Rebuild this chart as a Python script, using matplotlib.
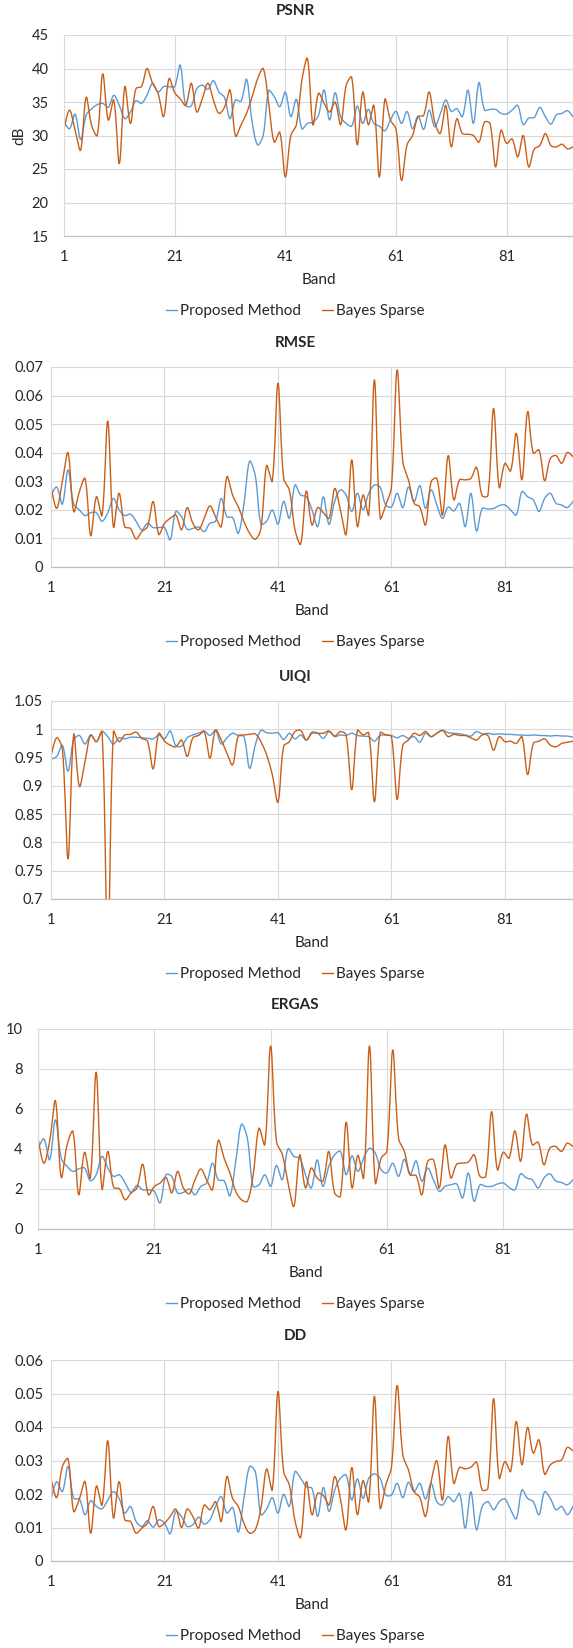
#!/usr/bin/env python3
"""Per-band quality metrics: Proposed Method vs Bayes Sparse (5 stacked panels)."""

import matplotlib
matplotlib.use("Agg")
import matplotlib.pyplot as plt
import numpy as np
from matplotlib.ticker import FixedLocator, FuncFormatter

FIG_W_PX = 573
FIG_H_PX = 1648
DPI = 100

BLUE = "#5B9BD5"
ORANGE = "#CB5E17"
GRID = "#D9D9D9"
AXIS = "#BFBFBF"
TEXT = "#262626"

SERIES_NAMES = ["Proposed Method", "Bayes Sparse"]
X_TICKS = [1, 21, 41, 61, 81]
N_BANDS = 93

PSNR_PROPOSED = [
    32.0, 31.0, 33.2, 29.4, 33.0, 34.0, 34.6, 34.8, 34.2, 36.0,
    34.5, 32.5, 33.5, 35.2, 34.8, 36.0, 37.8, 36.5, 37.3, 37.3,
    37.3, 40.5, 34.5, 34.4, 37.0, 37.5, 36.9, 38.2, 36.5, 35.7,
    32.5, 35.3, 35.1, 38.4, 32.0, 28.6, 30.0, 36.7, 35.8, 34.3,
    36.5, 32.8, 35.4, 31.0, 31.8, 32.0, 33.0, 36.8, 32.3, 36.4,
    32.8, 31.8, 31.4, 34.4, 31.8, 33.9, 31.8, 31.4, 30.7, 32.3,
    33.6, 31.8, 33.6, 31.0, 32.9, 30.9, 33.8, 31.3, 33.2, 35.3,
    33.6, 34.0, 32.8, 36.8, 31.8, 37.9, 33.8, 33.9, 33.9, 33.3,
    33.2, 33.8, 34.5, 31.6, 32.6, 32.7, 34.2, 32.8, 31.7, 33.1,
    33.3, 33.7, 32.8,
]
PSNR_BAYES = [
    31.0, 33.8, 30.8, 27.8, 35.7, 31.5, 30.0, 39.2, 32.3, 35.3,
    25.8, 37.3, 31.8, 37.0, 37.3, 40.0, 37.8, 36.3, 32.8, 38.5,
    36.4, 35.5, 34.5, 37.8, 33.5, 35.5, 37.8, 35.3, 33.3, 34.2,
    36.8, 29.9, 31.6, 33.3, 35.8, 38.5, 40.0, 34.8, 29.0, 30.5,
    23.8, 30.0, 31.6, 38.3, 41.5, 31.6, 36.3, 34.8, 33.5, 35.0,
    31.6, 37.5, 38.7, 28.6, 36.5, 31.6, 34.5, 23.8, 35.4, 32.3,
    31.0, 23.3, 28.6, 30.0, 32.8, 33.0, 36.5, 32.0, 30.3, 34.5,
    28.3, 32.5, 30.3, 30.2, 30.0, 29.0, 32.0, 31.8, 25.3, 30.8,
    28.8, 29.5, 26.8, 30.0, 25.3, 28.0, 28.5, 30.3, 28.5, 28.3,
    28.7, 28.0, 28.3,
]

RMSE_PROPOSED = [
    0.025, 0.028, 0.022, 0.034, 0.022, 0.020, 0.018, 0.019, 0.019, 0.016,
    0.019, 0.024, 0.020, 0.018, 0.0185, 0.016, 0.013, 0.0153, 0.0138, 0.0138,
    0.0138, 0.0095, 0.0194, 0.0176, 0.0132, 0.0135, 0.014, 0.0124, 0.0153, 0.016,
    0.024, 0.0176, 0.0173, 0.0118, 0.022, 0.037, 0.032, 0.015, 0.016, 0.020,
    0.015, 0.023, 0.017, 0.0287, 0.0252, 0.0246, 0.020, 0.0141, 0.0246, 0.0149,
    0.023, 0.027, 0.0252, 0.0194, 0.0258, 0.020, 0.0258, 0.0287, 0.028, 0.0217,
    0.021, 0.0258, 0.0208, 0.028, 0.0229, 0.0285, 0.0205, 0.027, 0.0217, 0.017,
    0.021, 0.0196, 0.0223, 0.0141, 0.0258, 0.0126, 0.0205, 0.0203, 0.0205, 0.0215,
    0.0217, 0.020, 0.0182, 0.0264, 0.0246, 0.0235, 0.0194, 0.024, 0.0258, 0.0223,
    0.0217, 0.0208, 0.0229,
]
RMSE_BAYES = [
    0.028, 0.0205, 0.030, 0.040, 0.0194, 0.0264, 0.031, 0.0109, 0.0246, 0.018,
    0.0511, 0.014, 0.0258, 0.0141, 0.0135, 0.0098, 0.0124, 0.0141, 0.0229, 0.0114,
    0.0153, 0.017, 0.0182, 0.013, 0.0208, 0.0153, 0.013, 0.017, 0.0214, 0.0176,
    0.0141, 0.0316, 0.0252, 0.0211, 0.0159, 0.0118, 0.0097, 0.0135, 0.0355, 0.030,
    0.0643, 0.031, 0.027, 0.013, 0.008, 0.0266, 0.0147, 0.0208, 0.019, 0.017,
    0.0275, 0.020, 0.0114, 0.0375, 0.0141, 0.0252, 0.0182, 0.0655, 0.017, 0.0217,
    0.028, 0.069, 0.0369, 0.0305, 0.0223, 0.021, 0.0147, 0.0299, 0.031, 0.0182,
    0.039, 0.0235, 0.0305, 0.0305, 0.031, 0.0349, 0.0249, 0.025, 0.0555, 0.0278,
    0.0363, 0.0336, 0.0468, 0.0305, 0.0544, 0.0398, 0.041, 0.0302, 0.038, 0.039,
    0.0363, 0.0401, 0.0386,
]

UIQI_PROPOSED = [
    0.947, 0.952, 0.972, 0.926, 0.981, 0.989, 0.974, 0.990, 0.978, 0.996,
    0.987, 0.974, 0.985, 0.983, 0.986, 0.986, 0.985, 0.984, 0.983, 0.990,
    0.983, 0.997, 0.971, 0.970, 0.985, 0.990, 0.993, 0.997, 0.989, 0.998,
    0.974, 0.985, 0.993, 0.989, 0.987, 0.931, 0.972, 0.998, 0.994, 0.993,
    0.994, 0.982, 0.993, 0.983, 0.990, 0.981, 0.995, 0.993, 0.984, 0.996,
    0.987, 0.990, 0.989, 0.993, 0.989, 0.988, 0.987, 0.979, 0.989, 0.990,
    0.989, 0.985, 0.989, 0.984, 0.987, 0.977, 0.993, 0.987, 0.993, 0.998,
    0.994, 0.993, 0.992, 0.990, 0.988, 0.996, 0.992, 0.993, 0.991, 0.992,
    0.991, 0.991, 0.990, 0.990, 0.989, 0.990, 0.989, 0.989, 0.988, 0.989,
    0.988, 0.988, 0.986,
]
UIQI_BAYES = [
    0.953, 0.985, 0.965, 0.771, 0.991, 0.899, 0.943, 0.990, 0.978, 0.996,
    0.600, 0.996, 0.978, 0.990, 0.991, 0.995, 0.984, 0.979, 0.930, 0.993,
    0.979, 0.972, 0.969, 0.981, 0.952, 0.985, 0.989, 0.996, 0.949, 0.999,
    0.981, 0.958, 0.937, 0.988, 0.990, 0.991, 0.992, 0.978, 0.955, 0.920,
    0.871, 0.970, 0.978, 0.996, 0.998, 0.981, 0.993, 0.993, 0.993, 0.997,
    0.988, 0.996, 0.990, 0.893, 0.998, 0.990, 0.994, 0.872, 0.994, 0.990,
    0.987, 0.876, 0.972, 0.981, 0.993, 0.989, 0.996, 0.987, 0.993, 0.998,
    0.987, 0.991, 0.989, 0.989, 0.985, 0.981, 0.990, 0.989, 0.963, 0.987,
    0.978, 0.979, 0.975, 0.987, 0.920, 0.975, 0.979, 0.983, 0.972, 0.969,
    0.975, 0.977, 0.979,
]

ERGAS_PROPOSED = [
    4.01, 4.51, 3.46, 5.46, 3.54, 3.13, 2.88, 3.01, 3.05, 2.41,
    2.71, 3.63, 3.05, 2.63, 2.71, 2.30, 1.83, 2.18, 1.96, 1.96,
    1.88, 1.30, 2.71, 2.63, 1.80, 1.83, 2.00, 1.71, 2.13, 2.30,
    3.29, 2.46, 2.41, 1.66, 3.38, 5.24, 4.54, 2.13, 2.21, 2.71,
    2.13, 3.18, 2.46, 4.01, 3.63, 3.54, 2.71, 2.05, 3.46, 2.13,
    3.13, 3.71, 3.88, 2.71, 3.66, 2.88, 3.54, 4.04, 3.79, 2.96,
    2.80, 3.29, 2.63, 3.49, 2.71, 3.41, 2.38, 3.05, 2.46, 1.88,
    2.13, 2.21, 2.25, 1.55, 2.80, 1.38, 2.21, 2.13, 2.13, 2.25,
    2.30, 2.08, 1.96, 2.76, 2.55, 2.46, 2.05, 2.55, 2.76, 2.41,
    2.33, 2.21, 2.46,
]
ERGAS_BAYES = [
    4.54, 3.29, 4.38, 6.41, 2.58, 4.21, 4.88, 1.71, 3.84, 2.55,
    7.84, 2.00, 3.88, 2.08, 2.01, 1.46, 1.80, 2.05, 3.24, 1.71,
    2.13, 2.30, 2.58, 1.80, 2.88, 2.05, 1.76, 2.46, 3.00, 2.46,
    1.96, 4.43, 3.54, 2.80, 1.88, 1.46, 1.38, 2.71, 5.04, 4.21,
    9.15, 4.38, 3.74, 2.30, 1.13, 3.71, 2.05, 3.05, 2.55, 2.40,
    3.88, 1.80, 1.63, 5.34, 2.05, 3.68, 2.55, 9.15, 2.30, 3.54,
    3.90, 8.95, 4.54, 3.88, 2.71, 2.68, 1.71, 3.38, 3.46, 2.05,
    4.21, 2.55, 3.24, 3.29, 3.35, 3.71, 2.63, 2.63, 5.87, 2.96,
    3.84, 3.54, 4.91, 3.38, 5.74, 4.21, 4.34, 3.21, 4.04, 4.13,
    3.88, 4.29, 4.13,
]

DD_PROPOSED = [
    0.0185, 0.0237, 0.0207, 0.0282, 0.0187, 0.0185, 0.0138, 0.0180, 0.0163, 0.0156,
    0.0182, 0.0207, 0.0187, 0.0143, 0.0163, 0.0118, 0.0103, 0.0120, 0.0101, 0.0123,
    0.0113, 0.0081, 0.0148, 0.0133, 0.0103, 0.0108, 0.0131, 0.0110, 0.0123, 0.0163,
    0.0192, 0.0143, 0.0160, 0.0086, 0.0187, 0.0282, 0.0267, 0.0138, 0.0155, 0.0189,
    0.0143, 0.0199, 0.0163, 0.0267, 0.0247, 0.0222, 0.0217, 0.0133, 0.0220, 0.0148,
    0.0212, 0.0247, 0.0257, 0.0182, 0.0245, 0.0187, 0.0247, 0.0260, 0.0247, 0.0197,
    0.0197, 0.0232, 0.0189, 0.0235, 0.0207, 0.0232, 0.0185, 0.0232, 0.0177, 0.0167,
    0.0192, 0.0177, 0.0202, 0.0098, 0.0207, 0.0093, 0.0163, 0.0177, 0.0153, 0.0177,
    0.0185, 0.0153, 0.0126, 0.0212, 0.0187, 0.0177, 0.0138, 0.0207, 0.0187, 0.0153,
    0.0163, 0.0138, 0.0163,
]
DD_BAYES = [
    0.0245, 0.0189, 0.0282, 0.0305, 0.0148, 0.0185, 0.0237, 0.0083, 0.0224, 0.0167,
    0.0359, 0.0128, 0.0237, 0.0123, 0.0118, 0.0083, 0.0098, 0.0113, 0.0163, 0.0103,
    0.0113, 0.0133, 0.0155, 0.0100, 0.0155, 0.0133, 0.0098, 0.0167, 0.0153, 0.0177,
    0.0118, 0.0252, 0.0187, 0.0163, 0.0113, 0.0083, 0.0093, 0.0158, 0.0275, 0.0212,
    0.0506, 0.0267, 0.0227, 0.0120, 0.0070, 0.0237, 0.0138, 0.0202, 0.0195, 0.0167,
    0.0252, 0.0187, 0.0093, 0.0279, 0.0138, 0.0240, 0.0177, 0.0492, 0.0158, 0.0227,
    0.0280, 0.0524, 0.0317, 0.0272, 0.0207, 0.0190, 0.0133, 0.0237, 0.0299, 0.0182,
    0.0372, 0.0232, 0.0279, 0.0275, 0.0280, 0.0295, 0.0212, 0.0217, 0.0485, 0.0247,
    0.0297, 0.0267, 0.0417, 0.0287, 0.0399, 0.0322, 0.0362, 0.0259, 0.0287, 0.0297,
    0.0302, 0.0339, 0.0329,
]

# panel layout in pixels: (top, bottom, left) of the plot area, y range, y ticks
PANELS = [
    ("PSNR", PSNR_PROPOSED, PSNR_BAYES, (15, 45), np.arange(15, 46, 5), "dB", 35, 236, 64),
    ("RMSE", RMSE_PROPOSED, RMSE_BAYES, (0, 0.07), np.arange(0, 0.0701, 0.01), None, 367, 567, 51),
    ("UIQI", UIQI_PROPOSED, UIQI_BAYES, (0.7, 1.05), np.arange(0.7, 1.0501, 0.05), None, 701, 899, 51),
    ("ERGAS", ERGAS_PROPOSED, ERGAS_BAYES, (0, 10), np.arange(0, 10.1, 2), None, 1029, 1229, 38),
    ("DD", DD_PROPOSED, DD_BAYES, (0, 0.06), np.arange(0, 0.0601, 0.01), None, 1360, 1561, 51),
]
CHART_CENTER_PX = 295


def smooth_line(x, y, sx, sy, steps=12):
    """Excel-like smoothed line: cubic Bezier through each point, tangents
    scaled by neighbouring segment lengths measured in screen pixels."""
    pts = np.column_stack([x, y]).astype(float)
    scr = pts * np.array([sx, sy])
    n = len(pts)
    seglen = np.hypot(*np.diff(scr, axis=0).T)
    tang = np.zeros_like(pts)
    for i in range(n):
        a = pts[max(i - 1, 0)]
        b = pts[min(i + 1, n - 1)]
        tang[i] = b - a
    out = []
    t = np.linspace(0, 1, steps, endpoint=False)[:, None]
    for i in range(n - 1):
        d = seglen[i]
        d_prev = seglen[i - 1] if i > 0 else d
        d_next = seglen[i + 1] if i < n - 2 else d
        p1, p2 = pts[i], pts[i + 1]
        c1 = p1 + tang[i] * (d / (d_prev + d)) / 3.0
        c2 = p2 - tang[i + 1] * (d / (d + d_next)) / 3.0
        seg = ((1 - t) ** 3) * p1 + 3 * ((1 - t) ** 2) * t * c1 + 3 * (1 - t) * t ** 2 * c2 + t ** 3 * p2
        out.append(seg)
    out.append(pts[-1][None, :])
    out = np.vstack(out)
    return out[:, 0], out[:, 1]


def fmt(v, _):
    return f"{round(v, 4):g}"


def main():
    plt.rcParams["font.family"] = ["Lato", "DejaVu Sans"]
    fig = plt.figure(figsize=(FIG_W_PX / DPI, FIG_H_PX / DPI), dpi=DPI)
    bands = np.arange(1, N_BANDS + 1)

    for title, prop, bayes, ylim, yticks, ylabel, top, bottom, left in PANELS:
        ax = fig.add_axes([left / FIG_W_PX, 1 - bottom / FIG_H_PX,
                           (FIG_W_PX - left) / FIG_W_PX, (bottom - top) / FIG_H_PX])
        h_px = bottom - top
        px_per_band = (FIG_W_PX - left) / (N_BANDS - 1)
        px_per_unit = h_px / (ylim[1] - ylim[0])
        handles = []
        for vals, color, name in zip([prop, bayes], [BLUE, ORANGE], SERIES_NAMES):
            sx, sy = smooth_line(bands, vals, px_per_band, px_per_unit)
            (ln,) = ax.plot(sx, sy, color=color, lw=1.0, label=name, solid_joinstyle="round")
            handles.append(ln)

        ax.set_xlim(1, N_BANDS)
        ax.set_ylim(*ylim)
        ax.xaxis.set_major_locator(FixedLocator(X_TICKS))
        ax.yaxis.set_major_locator(FixedLocator(yticks))
        ax.yaxis.set_major_formatter(FuncFormatter(fmt))
        ax.grid(True, color=GRID, lw=0.8)
        ax.set_axisbelow(True)
        for side in ["top", "right"]:
            ax.spines[side].set_visible(False)
        ax.spines["left"].set_color(GRID)
        ax.spines["left"].set_linewidth(0.8)
        ax.spines["bottom"].set_color(AXIS)
        ax.spines["bottom"].set_linewidth(0.9)
        ax.tick_params(axis="both", length=0, labelsize=10.5, colors=TEXT)
        ax.tick_params(axis="x", pad=10)
        ax.tick_params(axis="y", pad=11 if left < 45 or left > 60 else 5.5)

        ax.set_xlabel("Band", fontsize=11, color=TEXT, va="center")
        ax.xaxis.set_label_coords(0.5, -44 / h_px)
        if ylabel:
            ax.set_ylabel(ylabel, fontsize=11, color=TEXT, va="center")
            ax.yaxis.set_label_coords(-(left - 19) / (FIG_W_PX - left), 0.5)

        fig.text(CHART_CENTER_PX / FIG_W_PX, 1 - (top - 24) / FIG_H_PX, title,
                 ha="center", va="center", fontsize=11, fontweight="bold", color=TEXT)

        fig.legend(handles=handles, loc="center",
                   bbox_to_anchor=(CHART_CENTER_PX / FIG_W_PX, 1 - (bottom + 75) / FIG_H_PX),
                   ncol=2, frameon=False, fontsize=11, handlelength=0.75,
                   handletextpad=0.15, columnspacing=1.4, labelcolor=TEXT)

    fig.savefig("out.png", dpi=DPI)
    plt.close(fig)


if __name__ == "__main__":
    main()
